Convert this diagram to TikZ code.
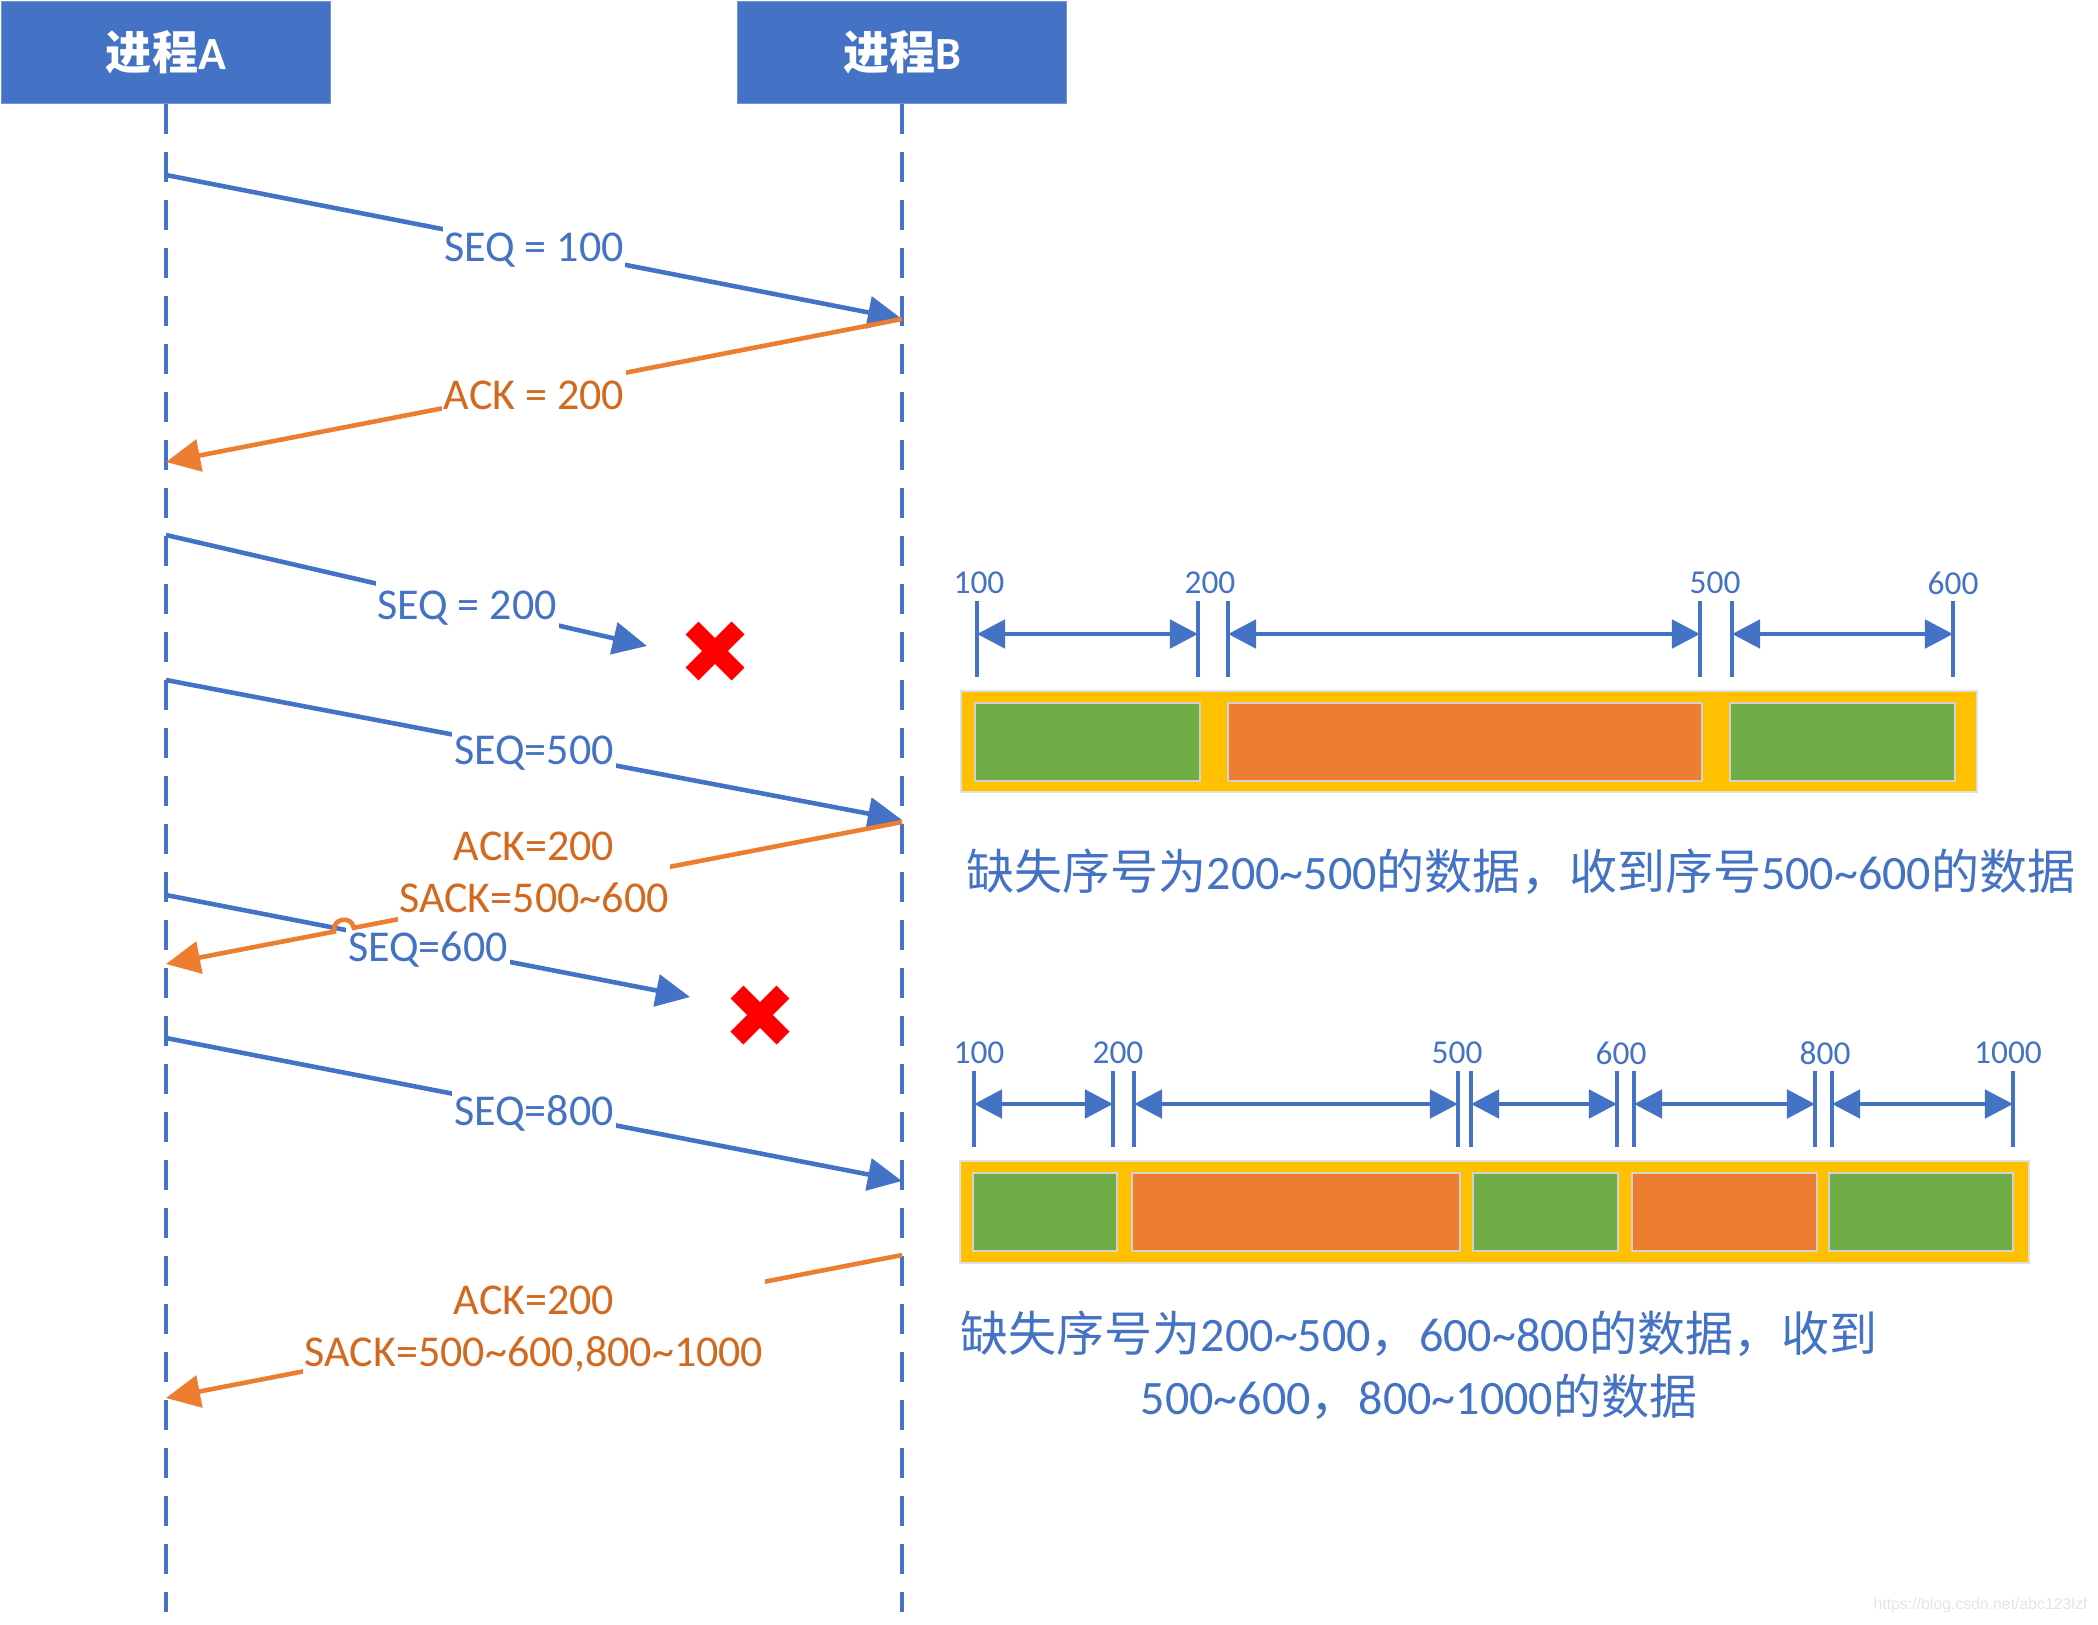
\documentclass[tikz,border=0pt]{standalone}
\usepackage{fontspec}
\setmainfont{Carlito}
\newfontfamily\cjk{Noto Sans CJK SC}
\newfontfamily\wmfont{Liberation Sans}
\usetikzlibrary{arrows.meta}
\definecolor{oblue}{HTML}{4472C4}
\definecolor{oorange}{HTML}{ED7D31}
\definecolor{otext}{HTML}{D2691E}
\definecolor{oyellow}{HTML}{FFC000}
\definecolor{ogreen}{HTML}{70AD47}
\definecolor{wmgray}{HTML}{E4E4E4}
\begin{document}
\begin{tikzpicture}[x=0.01cm, y=-0.01cm,
  header/.style={fill=oblue, draw=oblue!75!white, line width=0.3pt, minimum width=3.29cm, minimum height=1.01cm, inner sep=0pt, text=white, font=\fontsize{13.1}{15}\selectfont\bfseries},
  lifeline/.style={draw=oblue, line width=0.95pt, dash pattern=on 0.30cm off 0.18cm},
  msgb/.style={draw=oblue, line width=1.3pt, -{Triangle[length=9.7pt,width=9.1pt]}},
  msgo/.style={draw=oorange, line width=1.3pt, -{Triangle[length=9.7pt,width=9.1pt]}},
  lblb/.style={text=oblue, fill=white, inner xsep=0.5pt, inner ysep=4pt, yshift=-1pt, font=\fontsize{12.52}{14.8}\selectfont},
  lblo/.style={text=otext, fill=white, inner xsep=0.5pt, inner ysep=4pt, align=center, font=\fontsize{12.52}{14.8}\selectfont},
  xmark/.style={draw=red, line width=5.2pt},
  barbg/.style={fill=oyellow, draw=gray!25, line width=0.4pt},
  gbox/.style={fill=ogreen, draw=gray!35, line width=0.4pt},
  obox/.style={fill=oorange, draw=gray!35, line width=0.4pt},
  dimarrow/.style={draw=oblue, line width=1.4pt, {Triangle[length=8pt,width=8pt]}-{Triangle[length=8pt,width=8pt]}},
  tickline/.style={draw=oblue, line width=1pt},
  ticklbl/.style={text=oblue, inner sep=0pt, font=\fontsize{9.5}{11}\selectfont},
  cjktext/.style={text=oblue, inner sep=0pt, font=\fontsize{13.66}{17.93}\selectfont},
  wm/.style={text=wmgray, inner sep=0pt, font=\wmfont\fontsize{4.5}{5}\selectfont}
]
\useasboundingbox (0,0) rectangle (2098,1624);

% headers
\node[header] (A) at (166,52.5) {{\cjk\bfseries 进程}A};
\node[header] (B) at (902,52.5) {{\cjk\bfseries 进程}B};
\coordinate (bottom) at (0,1612);
\draw[lifeline] (A.south) -- (A.south |- bottom);
\draw[lifeline] (B.south) -- (B.south |- bottom);

% message end points
\coordinate (a1) at (166,175);  \coordinate (b1) at (902,319);
\coordinate (a2) at (166,462);
\coordinate (a3) at (166,535);  \coordinate (t3) at (647,646);
\coordinate (a4) at (166,680);  \coordinate (b4) at (902,820);
\coordinate (b5) at (902,822);  \coordinate (a5) at (166,964);
\coordinate (a6) at (166,895);  \coordinate (t6) at (690,997);
\coordinate (a7) at (166,1038); \coordinate (b7) at (902,1181);
\coordinate (b8) at (902,1255); \coordinate (a8) at (166,1398);
% line jump
\coordinate (h1) at (353.8,927.8); \coordinate (hc1) at (351.3,914.7);
\coordinate (hc2) at (331.7,918.5); \coordinate (h2) at (334.2,931.6);
% lost marks
\coordinate (x1) at (715,651);
\coordinate (x2) at (760,1015);

\draw[msgb] (a1) -- node[lblb] (l1) {SEQ = 100} (b1);
\draw[msgo] (b1) -- node[lblo, yshift=-1.4pt] (l2) {ACK = 200} (a2);
\draw[msgb] (a3) -- node[lblb, pos=0.626] (l3) {SEQ = 200} (t3);
\draw[msgb] (a4) -- node[lblb] (l4) {SEQ=500} (b4);
\draw[msgb] (a6) -- node[lblb] (l6) {SEQ=600} (t6);
\draw[msgo] (b5) -- (h1) .. controls (hc1) and (hc2) .. (h2) -- (a5);
\node[lblo] (l5) at (534,872) {ACK=200\\SACK=500\textasciitilde600};
\draw[msgb] (a7) -- node[lblb] (l7) {SEQ=800} (b7);
\draw[msgo] (b8) -- node[lblo, yshift=-0.8pt] (l8) {ACK=200\\SACK=500\textasciitilde600,800\textasciitilde1000} (a8);

\draw[xmark] ([shift={(-23,-23)}]x1) -- ([shift={(23,23)}]x1);
\draw[xmark] ([shift={(-23,23)}]x1) -- ([shift={(23,-23)}]x1);
\draw[xmark] ([shift={(-23,-23)}]x2) -- ([shift={(23,23)}]x2);
\draw[xmark] ([shift={(-23,23)}]x2) -- ([shift={(23,-23)}]x2);

% upper bar
\foreach \x in {977,1198,1228,1700,1732,1953} \draw[tickline] (\x,601) -- (\x,677);
\draw[dimarrow] (977,634) -- (1198,634);
\draw[dimarrow] (1228,634) -- (1700,634);
\draw[dimarrow] (1732,634) -- (1953,634);
\node[ticklbl] (u100) at (979,583) {100};
\node[ticklbl] (u200) at (1210,583) {200};
\node[ticklbl] (u500) at (1715,583) {500};
\node[ticklbl] (u600) at (1953,583) {600};
\draw[barbg] (961,691) rectangle (1977,792);
\draw[gbox] (975,703) rectangle (1200,781);
\draw[obox] (1228,703) rectangle (1702,781);
\draw[gbox] (1730,703) rectangle (1955,781);
\node[cjktext, anchor=west] (t1) at (966,872) {{\cjk 缺失序号为}200\textasciitilde500{\cjk 的数据，收到序号}500\textasciitilde600{\cjk 的数据}};

% lower bar
\foreach \x in {974,1113,1134,1458,1471,1617,1634,1815,1832,2013} \draw[tickline] (\x,1071) -- (\x,1147);
\draw[dimarrow] (974,1104) -- (1113,1104);
\draw[dimarrow] (1134,1104) -- (1458,1104);
\draw[dimarrow] (1471,1104) -- (1617,1104);
\draw[dimarrow] (1634,1104) -- (1815,1104);
\draw[dimarrow] (1832,1104) -- (2013,1104);
\node[ticklbl] (d100) at (979,1053) {100};
\node[ticklbl] (d200) at (1118,1053) {200};
\node[ticklbl] (d500) at (1457,1053) {500};
\node[ticklbl] (d600) at (1621,1053) {600};
\node[ticklbl] (d800) at (1825,1053) {800};
\node[ticklbl] (d1000) at (2008,1053) {1000};
\draw[barbg] (960,1161) rectangle (2029,1263);
\draw[gbox] (973,1173) rectangle (1117,1251);
\draw[obox] (1132,1173) rectangle (1460,1251);
\draw[gbox] (1473,1173) rectangle (1618,1251);
\draw[obox] (1632,1173) rectangle (1817,1251);
\draw[gbox] (1829,1173) rectangle (2013,1251);
\node[cjktext, align=center] (t2) at (1419,1365) {{\cjk 缺失序号为}200\textasciitilde500{\cjk ，}600\textasciitilde800{\cjk 的数据，收到}\\500\textasciitilde600{\cjk ，}800\textasciitilde1000{\cjk 的数据}};

\node[wm, anchor=east] (wmk) at (2088,1605) {https://blog.csdn.net/abc123lzf};
\end{tikzpicture}
\end{document}
